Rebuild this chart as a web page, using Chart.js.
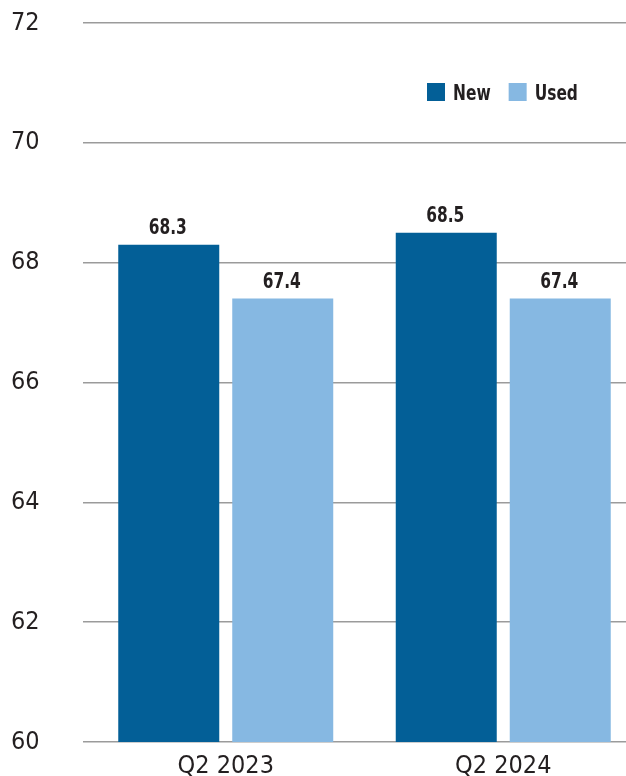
<!DOCTYPE html>
<html>
<head>
<meta charset="utf-8">
<script src="https://cdn.jsdelivr.net/npm/chart.js@4.4.1/dist/chart.umd.min.js"></script>
<style>
  html, body { margin: 0; padding: 0; background: #fff; overflow: hidden; }
  #wrap { position: absolute; left: 0; top: 0; width: 642px; height: 776px; }
</style>
</head>
<body>
<div id="wrap"><canvas id="chart" width="642" height="776"></canvas></div>
<script>
const categories = ["Q2 2023", "Q2 2024"];
const newValues = [68.3, 68.5];
const usedValues = [67.4, 67.4];
const seriesNames = ["New", "Used"];
const barColors = ["#035f97", "#86b8e2"];
const yTicks = [60, 62, 64, 66, 68, 70, 72];

const FONT = '"Liberation Sans Narrow", "DejaVu Sans Condensed", "Roboto", sans-serif';
const SQUEEZE = 0.78; // horizontal squeeze to mimic the condensed bold face

function squeezedText(ctx, text, x, y, align) {
  const w = ctx.measureText(text).width * SQUEEZE;
  let left = x;
  if (align === "center") left = x - w / 2;
  ctx.save();
  ctx.translate(left, y);
  ctx.scale(SQUEEZE, 1);
  ctx.textAlign = "left";
  ctx.fillText(text, 0, 0);
  ctx.restore();
  return w;
}

// value labels above each bar
const valueLabels = {
  id: "valueLabels",
  afterDatasetsDraw(chart) {
    const ctx = chart.ctx;
    ctx.save();
    ctx.font = "bold 22px " + FONT;
    ctx.fillStyle = "#231f20";
    ctx.textBaseline = "alphabetic";
    chart.data.datasets.forEach((ds, i) => {
      chart.getDatasetMeta(i).data.forEach((bar, j) => {
        squeezedText(ctx, ds.data[j].toFixed(1), bar.x - 1, bar.y - 11, "center");
      });
    });
    ctx.restore();
  }
};

// legend drawn inside the plot, top right
const insideLegend = {
  id: "insideLegend",
  afterDraw(chart) {
    const ctx = chart.ctx;
    ctx.save();
    ctx.font = "bold 22px " + FONT;
    ctx.textBaseline = "alphabetic";
    let x = 427;
    const y = 92;
    chart.data.datasets.forEach((ds) => {
      ctx.fillStyle = ds.backgroundColor;
      ctx.fillRect(x, y - 9, 18, 18);
      x += 26;
      ctx.fillStyle = "#231f20";
      const w = squeezedText(ctx, ds.label, x, y + 8, "left");
      x += w + 18;
    });
    ctx.restore();
  }
};

new Chart(document.getElementById("chart"), {
  type: "bar",
  data: {
    labels: categories,
    datasets: [
      { label: seriesNames[0], data: newValues, backgroundColor: barColors[0] },
      { label: seriesNames[1], data: usedValues, backgroundColor: barColors[1] }
    ]
  },
  options: {
    responsive: false,
    animation: false,
    layout: { padding: { top: 23, right: 0, bottom: 0, left: 11 } },
    datasets: {
      bar: { categoryPercentage: 0.8216, barPercentage: 0.886 }
    },
    plugins: {
      legend: { display: false },
      tooltip: { enabled: false }
    },
    scales: {
      x: {
        grid: { display: false, drawTicks: false },
        border: { display: false },
        ticks: {
          color: "#231f20",
          font: { family: FONT, size: 25 },
          padding: 9
        },
        afterFit(scale) { scale.height = 34; }
      },
      y: {
        min: 60,
        max: 72,
        afterBuildTicks(scale) { scale.ticks = yTicks.map(v => ({ value: v })); },
        grid: { color: "#9b9b9b", lineWidth: 1.5, tickLength: 4, drawTicks: true },
        border: { display: false },
        ticks: {
          color: "#231f20",
          font: { family: FONT, size: 25 },
          padding: 0,
          crossAlign: "far"
        },
        afterFit(scale) { scale.width = 76; }
      }
    }
  },
  plugins: [valueLabels, insideLegend]
});
</script>
</body>
</html>
